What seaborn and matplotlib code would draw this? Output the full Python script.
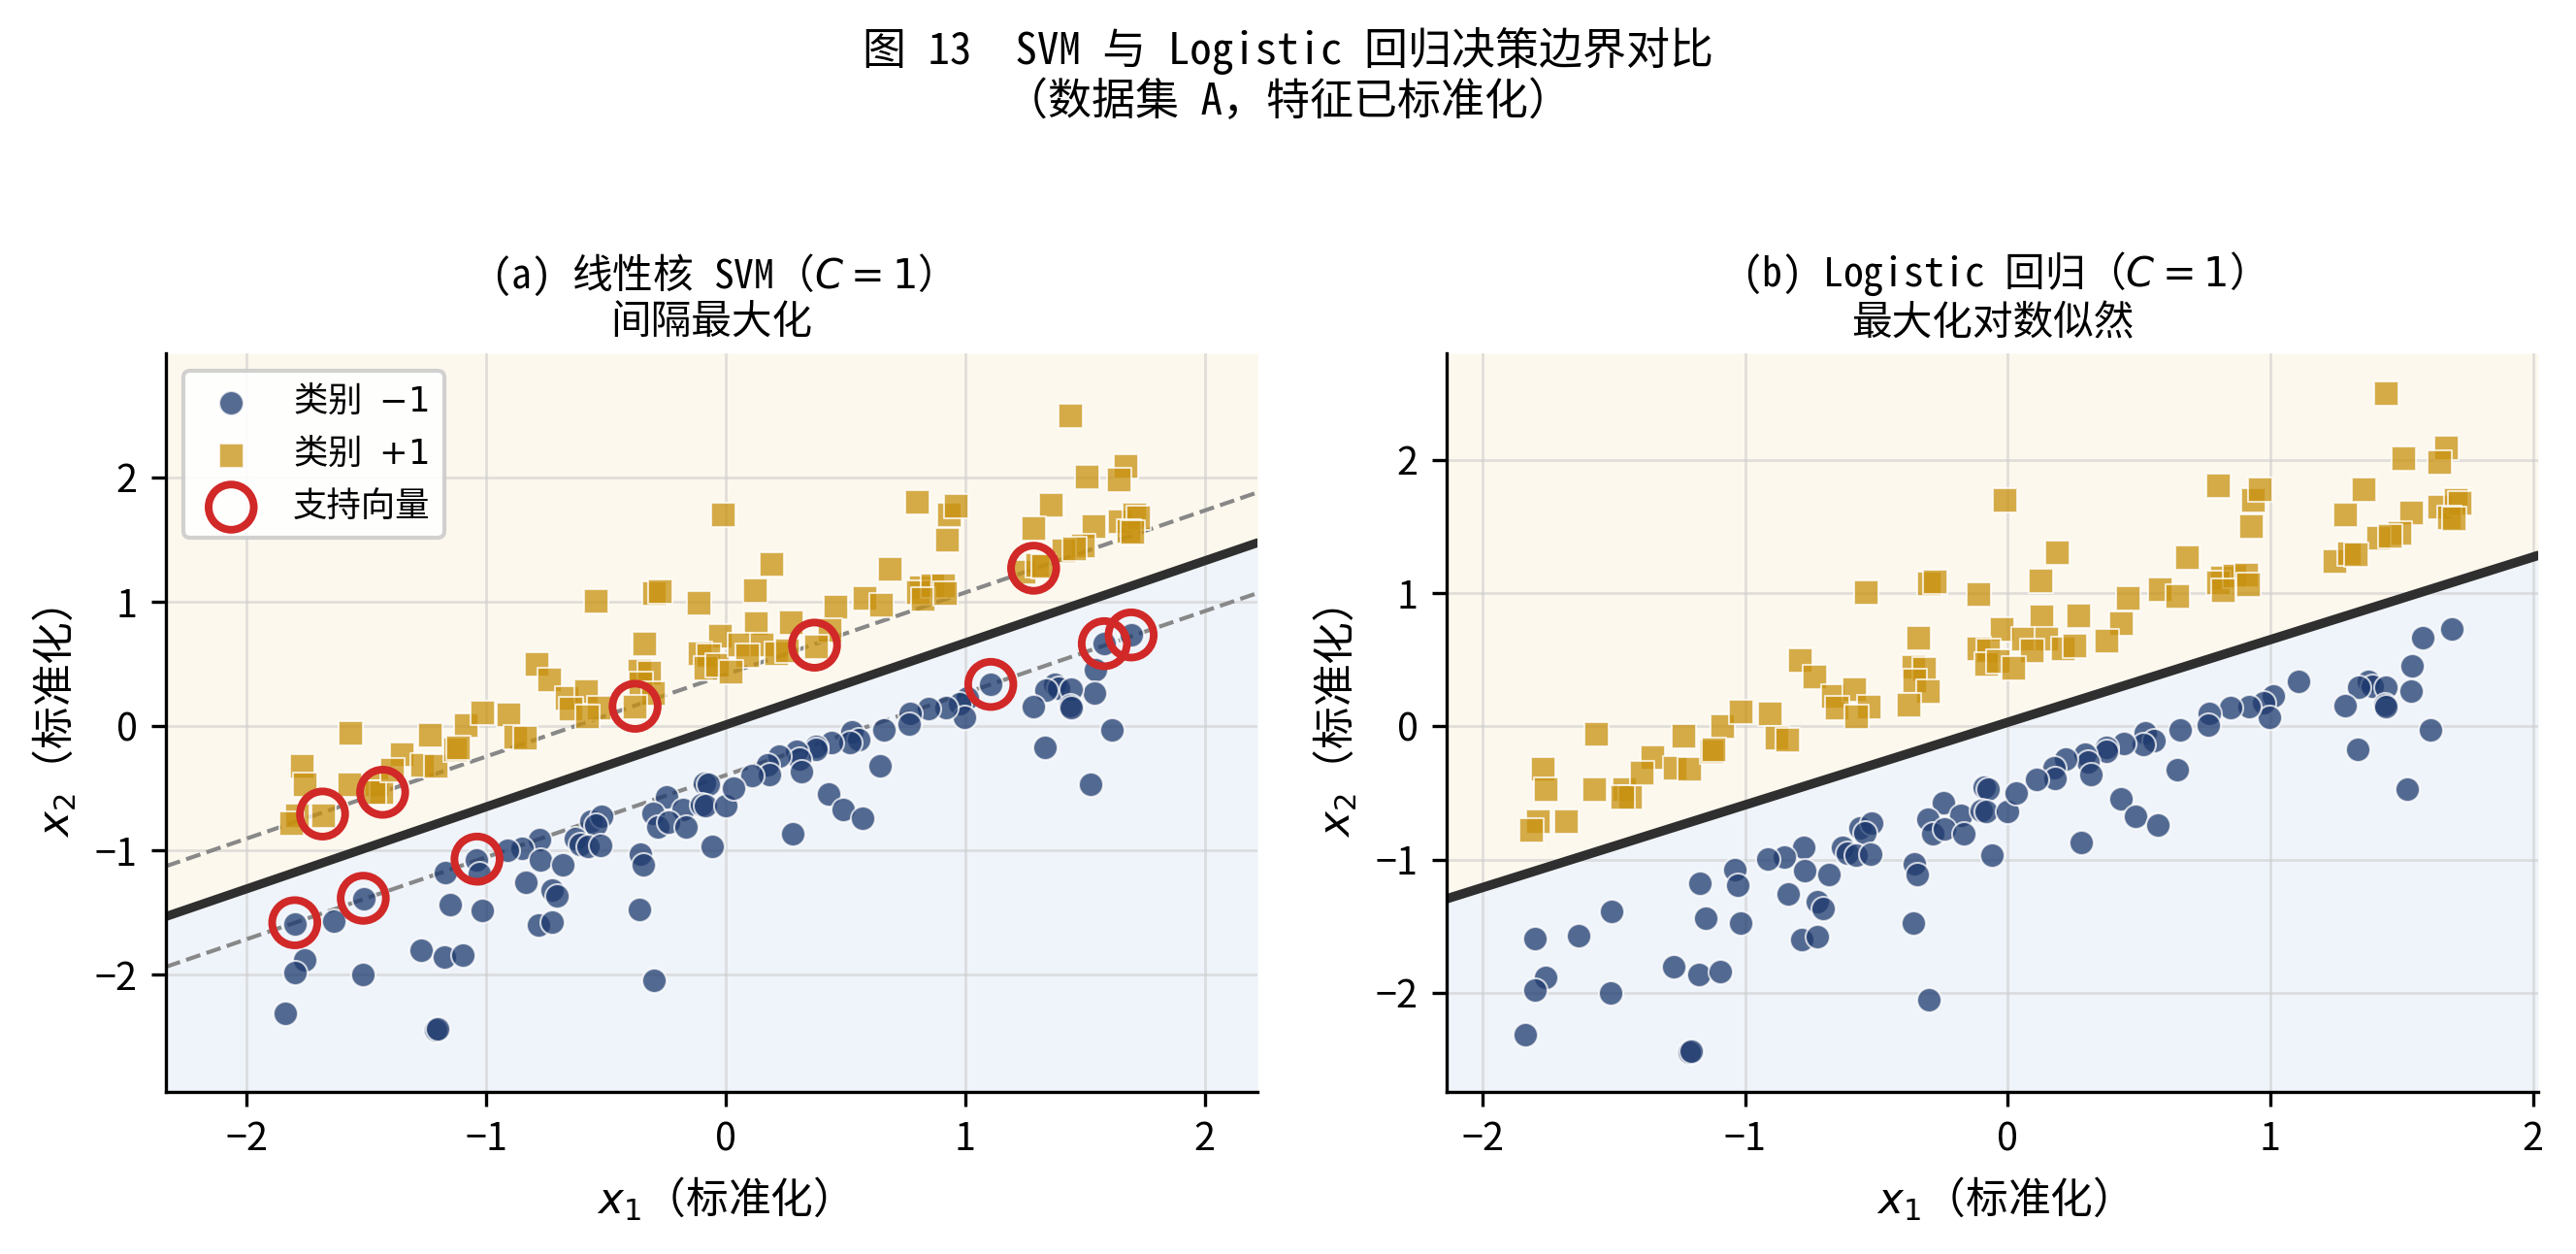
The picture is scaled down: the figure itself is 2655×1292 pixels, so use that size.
import numpy as np
import pandas as pd
import matplotlib
matplotlib.use("Agg")
import matplotlib.pyplot as plt
import seaborn as sns

# class -1 points
neg_x = [-1.51, -1.80, -1.636, -1.76, -1.80, -1.514, -1.838, -1.212, -1.205, -1.274,
         -1.175, -1.097, -1.171, -1.149, -1.04, -1.03, -1.018,
         -0.089, -0.074, -0.246, -0.305, -0.179, -0.10, -0.084, -0.286, -0.24,
         -0.166, 0.0, -0.059, -0.564, -0.52, -0.545, -0.63, -0.61, -0.576, -0.523,
         -0.778, -0.853, -0.914, -0.773, -0.68, -0.357, -0.345, -0.837, -0.724,
         -0.704, -0.36, -0.784, -0.724, -0.30,
         1.01, 0.975, 0.996, 0.92, 0.848, 0.768, 0.765, 0.658, 0.525, 0.556,
         0.516, 0.442, 0.377, 0.377, 0.296, 0.306, 0.315, 0.222, 0.175, 0.18,
         0.109, 0.033, 0.644, 0.43, 0.488, 0.57, 0.28,
         1.692, 1.58, 1.541, 1.537, 1.106, 1.374, 1.39, 1.337, 1.44, 1.436,
         1.44, 1.283, 1.61, 1.331, 1.523]
neg_y = [-1.39, -1.59, -1.57, -1.886, -1.98, -2.0, -2.315, -2.444, -2.44, -1.806,
         -1.86, -1.84, -1.18, -1.44, -1.076, -1.19, -1.48,
         -0.46, -0.47, -0.571, -0.70, -0.668, -0.63, -0.64, -0.81, -0.77,
         -0.81, -0.64, -0.97, -0.766, -0.73, -0.80, -0.905, -0.95, -0.97, -0.96,
         -0.91, -0.983, -0.997, -1.08, -1.114, -1.03, -1.114, -1.26, -1.32,
         -1.365, -1.476, -1.60, -1.58, -2.05,
         0.226, 0.18, 0.068, 0.146, 0.138, 0.10, 0.012, -0.03, -0.05, -0.11,
         -0.134, -0.13, -0.16, -0.19, -0.206, -0.267, -0.364, -0.243, -0.31, -0.39,
         -0.40, -0.50, -0.323, -0.546, -0.672, -0.74, -0.87,
         0.733, 0.663, 0.456, 0.262, 0.335, 0.34, 0.303, 0.29, 0.296, 0.165,
         0.146, 0.158, -0.03, -0.17, -0.468]

# class +1 points
pos_x = [-1.567, -1.77, -1.76, -1.574, -1.354, -1.235, -1.086, -1.016, -1.79, -1.814,
         -1.683, -1.46, -1.44, -1.47, -1.394, -1.268, -1.213, -1.13, -1.12,
         -0.012, -0.542, -0.30, -0.277, -0.113, -0.342, -0.025, -0.792, -0.736,
         -0.665, -0.585, -0.650, -0.530, -0.578, -0.36, -0.32, -0.355, -0.305,
         -0.38, -0.908, -0.88, -0.84, -0.111, -0.074, -0.084, -0.039,
         0.188, 0.123, 0.799, 0.932, 0.96, 0.925, 0.684, 0.127, 0.269, 0.457,
         0.58, 0.646, 0.432, 0.377, 0.056, 0.148, 0.09, 0.21, 0.253, 0.021,
         0.815, 0.80, 0.864, 0.907, 0.82, 0.914,
         1.439, 1.506, 1.669, 1.642, 1.356, 1.285, 1.536, 1.644, 1.705, 1.72,
         1.68, 1.697, 1.49, 1.41, 1.454, 1.245, 1.30, 1.325]
pos_y = [-0.056, -0.32, -0.47, -0.47, -0.23, -0.07, 0.005, 0.11, -0.715, -0.78,
         -0.715, -0.47, -0.53, -0.53, -0.35, -0.31, -0.32, -0.19, -0.17,
         1.70, 1.008, 1.07, 1.086, 0.994, 0.663, 0.73, 0.50, 0.373,
         0.228, 0.279, 0.139, 0.148, 0.075, 0.446, 0.43, 0.343, 0.265,
         0.16, 0.097, -0.084, -0.097, 0.585, 0.57, 0.47, 0.49,
         1.306, 1.092, 1.808, 1.70, 1.777, 1.50, 1.267, 0.825, 0.833, 0.964,
         1.03, 0.976, 0.777, 0.643, 0.655, 0.66, 0.57, 0.587, 0.61, 0.44,
         1.117, 1.08, 1.129, 1.136, 1.02, 1.068,
         2.50, 2.01, 2.09, 1.985, 1.78, 1.59, 1.607, 1.65, 1.70, 1.68,
         1.57, 1.56, 1.45, 1.415, 1.43, 1.243, 1.30, 1.29]

# support vectors (circled in panel a)
sv_x = [-1.684, -1.433, -0.379, 0.370, 1.285, -1.80, -1.514, -1.039, 1.106, 1.58, 1.692]
sv_y = [-0.708, -0.533, 0.159, 0.651, 1.27, -1.583, -1.386, -1.071, 0.335, 0.663, 0.733]

# decision boundaries
svm_slope, svm_intercept, svm_margin = 0.66, 0.01, 0.405
lr_slope, lr_intercept = 0.62, 0.03

NEG_COLOR = "#1e3a6e"
POS_COLOR = "#c8910f"
SV_COLOR = "#d12828"
MONO = ['Noto Sans Mono CJK SC', 'Noto Sans CJK SC', 'DejaVu Sans']

sns.set_style("ticks")
plt.rcParams['font.family'] = ['Noto Sans CJK SC', 'DejaVu Sans']
plt.rcParams['mathtext.fontset'] = 'dejavusans'
plt.rcParams['axes.unicode_minus'] = True
for key in ['text.color', 'axes.labelcolor', 'xtick.color', 'ytick.color', 'axes.edgecolor']:
    plt.rcParams[key] = 'black'

df_neg = pd.DataFrame({'x1': neg_x, 'x2': neg_y})
df_pos = pd.DataFrame({'x1': pos_x, 'x2': pos_y})
all_x = np.array(neg_x + pos_x)
all_y = np.array(neg_y + pos_y)

fig, axes = plt.subplots(1, 2, figsize=(8.85, 4.3067), dpi=300)
fig.subplots_adjust(left=0.0644, right=0.9853, bottom=0.1293, top=0.7183, wspace=0.173)


def draw_panel(ax, slope, intercept, pad, title, show_svm):
    xlim = (all_x.min() - pad, all_x.max() + pad)
    ylim = (all_y.min() - pad, all_y.max() + pad)
    xx = np.linspace(xlim[0], xlim[1], 200)
    line = slope * xx + intercept

    # shaded decision regions
    ax.fill_between(xx, line, ylim[1], color='#fdf8ed', lw=0, zorder=0)
    ax.fill_between(xx, ylim[0], line, color='#eff4fa', lw=0, zorder=0)

    sns.scatterplot(data=df_neg, x='x1', y='x2', ax=ax, color=NEG_COLOR, marker='o',
                    s=36, alpha=0.75, edgecolor='white', linewidth=0.5,
                    label='类别 $-1$', zorder=3)
    sns.scatterplot(data=df_pos, x='x1', y='x2', ax=ax, color=POS_COLOR, marker='s',
                    s=36, alpha=0.75, edgecolor='white', linewidth=0.5,
                    label='类别 $+1$', zorder=3)

    if show_svm:
        ax.plot(xx, line, color='#2f2f2f', lw=2.2, zorder=2)
        ax.plot(xx, line + svm_margin, color='#888888', lw=1.0, ls='--', zorder=2)
        ax.plot(xx, line - svm_margin, color='#888888', lw=1.0, ls='--', zorder=2)
        ax.scatter(sv_x, sv_y, s=125, facecolors='none', edgecolors=SV_COLOR,
                   linewidths=1.9, label='支持向量', zorder=4)
        ax.legend(loc='upper left', frameon=True, fancybox=True,
                  framealpha=0.9, edgecolor='#cccccc',
                  prop={'family': MONO, 'size': 8.5})
    else:
        ax.plot(xx, line, color='#2f2f2f', lw=2.3, zorder=2)
        ax.legend().remove()

    ax.set_xlim(xlim)
    ax.set_ylim(ylim)
    ax.set_xticks([-2, -1, 0, 1, 2])
    ax.set_yticks([-2, -1, 0, 1, 2])
    ax.set_axisbelow(True)
    ax.grid(True, color='#cccccc', alpha=0.55, lw=0.7)
    ax.tick_params(labelsize=9.5, length=3.5, width=0.8)
    for sp in ax.spines.values():
        sp.set_linewidth(0.8)
    sns.despine(ax=ax)
    ax.set_xlabel('$x_1$（标准化）', fontsize=10.5, family=MONO)
    ax.set_ylabel('$x_2$（标准化）', fontsize=10.5, family=MONO)
    ax.set_title(title, fontsize=10, pad=4.5, family=MONO)


draw_panel(axes[0], svm_slope, svm_intercept, 0.5,
           '(a) 线性核 SVM（$C=1$）\n间隔最大化', True)
draw_panel(axes[1], lr_slope, lr_intercept, 0.3,
           '(b) Logistic 回归（$C=1$）\n最大化对数似然', False)

fig.suptitle('图 13  SVM 与 Logistic 回归决策边界对比\n（数据集 A，特征已标准化）',
             fontsize=10.8, y=0.94, va='center', family=MONO)

fig.savefig('out.png', dpi=300)
